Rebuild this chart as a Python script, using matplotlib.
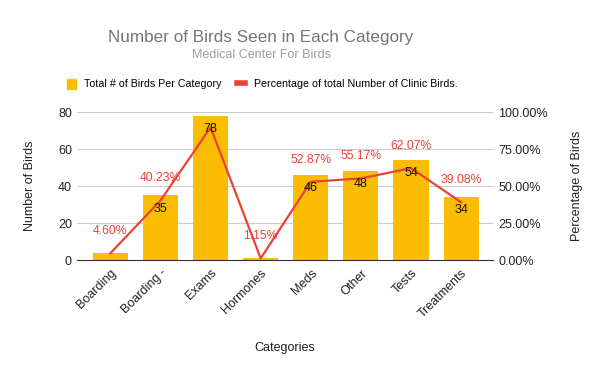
import matplotlib
matplotlib.use("Agg")
import matplotlib.pyplot as plt
from matplotlib.lines import Line2D
from matplotlib.patches import Patch

plt.rcParams['font.family'] = ['Liberation Sans', 'DejaVu Sans']

categories = ["Boarding", "Boarding -", "Exams", "Hormones", "Meds", "Other", "Tests", "Treatments"]
counts = [4, 35, 78, 1, 46, 48, 54, 34]
percents = [4.60, 40.23, 89.66, 1.15, 52.87, 55.17, 62.07, 39.08]
# labels the original chart leaves out (they would collide)
hide_count_labels = [0, 3]
hide_pct_labels = [2]

BAR = "#fbbc04"
LINE = "#ea4335"
TXT = "#222222"

fig = plt.figure(figsize=(6, 3.71), dpi=100)
ax = fig.add_axes([0.128, 0.299, 0.694, 0.399])
ax2 = ax.twinx()

x = list(range(len(categories)))
ax.bar(x, counts, width=0.7, color=BAR, zorder=2)

ax.set_xlim(-0.67, 7.64)
ax.set_ylim(0, 80)
ax2.set_ylim(0, 100)
ax.set_yticks([0, 20, 40, 60, 80])
ax2.set_yticks([0, 25, 50, 75, 100])
ax2.set_yticklabels([f"{v:.2f}%" for v in [0, 25, 50, 75, 100]])

# percentages belong to the right axis (0-100); draw on ax so the line sits above bars
scale = ax.get_ylim()[1] / ax2.get_ylim()[1]
pct_left = [p * scale for p in percents]
ax.plot(x, pct_left, color=LINE, lw=1.6, zorder=3)

ax.grid(axis="y", color="#cccccc", lw=0.8, zorder=0)
for a in (ax, ax2):
    for s in a.spines.values():
        s.set_visible(False)
    a.tick_params(length=0, labelsize=9, colors=TXT)
ax.spines["bottom"].set_visible(True)
ax.spines["bottom"].set_color("#333333")
ax.set_zorder(ax2.get_zorder() + 1)
ax.patch.set_visible(False)

ax.set_xticks(x)
ax.set_xticklabels(categories, rotation=45, ha="right", rotation_mode="anchor")
ax.tick_params(axis="x", pad=5)

for i, (c, p) in enumerate(zip(counts, pct_left)):
    if i not in hide_count_labels:
        ax.annotate(str(c), (i, c), xytext=(0, -9.5), textcoords="offset points",
                    ha="center", va="center", fontsize=9, color="#111111", zorder=4)
    if i not in hide_pct_labels:
        ax.annotate(f"{percents[i]:.2f}%", (i, p), xytext=(0, 16), textcoords="offset points",
                    ha="center", va="center", fontsize=8.7, color=LINE, zorder=4)

ax.set_xlabel("Categories", fontsize=9, color=TXT, labelpad=16)
ax.set_ylabel("Number of Birds", fontsize=9, color=TXT, labelpad=16)
ax2.set_ylabel("Percentage of Birds", fontsize=9, color=TXT, labelpad=17)

fig.text(0.435, 0.898, "Number of Birds Seen in Each Category", ha="center", va="center",
         fontsize=12.3, color="#757575")
fig.text(0.435, 0.852, "Medical Center For Birds", ha="center", va="center",
         fontsize=9, color="#9e9e9e")

handles = [Patch(color=BAR), Line2D([], [], color=LINE, lw=4)]
fig.legend(handles, ["Total # of Birds Per Category", "Percentage of total Number of Clinic Birds."],
           loc="center", bbox_to_anchor=(0.437, 0.773), ncol=2, frameon=False, fontsize=7.7,
           handlelength=0.8, handleheight=1.0, columnspacing=1.4, handletextpad=0.8)

fig.savefig("out.png", dpi=100)
